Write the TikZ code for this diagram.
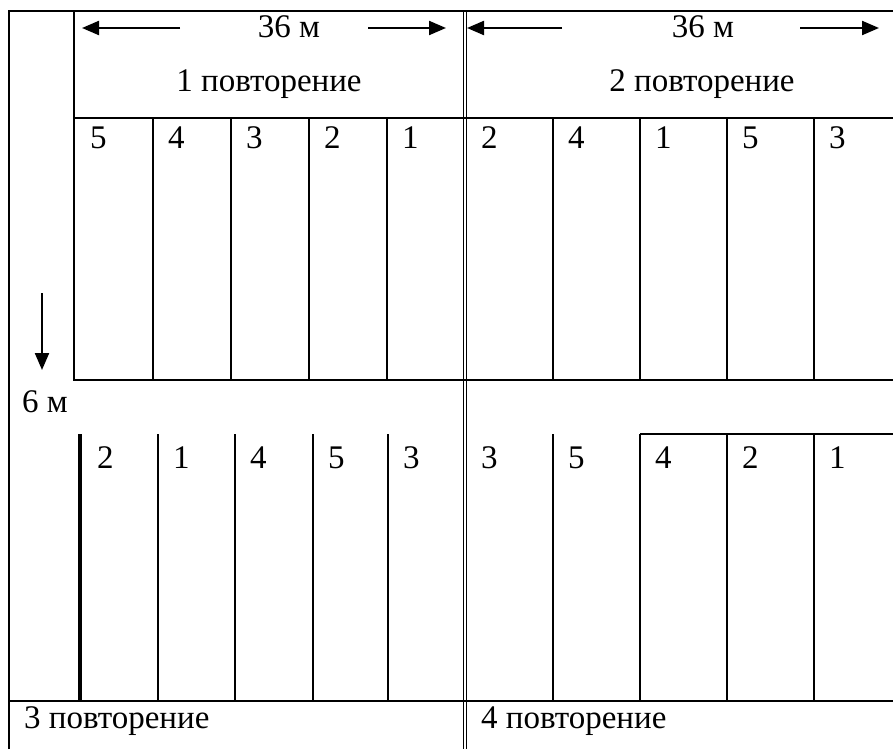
\documentclass[tikz,border=0pt]{standalone}
\usepackage{fontspec}
\setmainfont{Liberation Serif}
\usetikzlibrary{arrows.meta}
\begin{document}
\begin{tikzpicture}[x=1pt,y=-1pt,line width=2.3pt,line join=miter,
  lbl/.style={font=\fontsize{33}{36}\selectfont,inner sep=0pt},
  num/.style={lbl,anchor=base west},
  arr/.style={line width=2.2pt,-{Triangle[length=17pt,width=14pt]}},
  dbl/.style={line width=1.4pt},
  thick3/.style={line width=3.4pt}]
\useasboundingbox (0,0) rectangle (893,749);
\fill[white] (0,0) rectangle (893,749);
% frame
\draw (9,749) -- (9,11) -- (893,11);
\draw (74,11) -- (74,380) -- (893,380);
\draw (74,118) -- (893,118);
\draw[dbl] (463.2,11) -- (463.2,749);
\draw[dbl] (466.4,11) -- (466.4,749);
% top strips
\foreach \x in {153,231,309,387,553,640,727,814}
  \draw (\x,118) -- (\x,380);
% bottom strips
\draw[thick3] (80,434) -- (80,701);
\foreach \x in {158,235,313,388,553,640,727,814}
  \draw (\x,434) -- (\x,701);
\draw (640,434) -- (893,434);
\draw (9,701) -- (893,701);
% arrows
\coordinate (a1s) at (180,28); \coordinate (a1e) at (82,28);
\coordinate (a2s) at (368,28); \coordinate (a2e) at (446,28);
\coordinate (a3s) at (562,28); \coordinate (a3e) at (467,28);
\coordinate (a4s) at (800,28); \coordinate (a4e) at (879,28);
\coordinate (a5s) at (42,293); \coordinate (a5e) at (42,370);
\draw[arr] (a1s) -- (a1e);
\draw[arr] (a2s) -- (a2e);
\draw[arr] (a3s) -- (a3e);
\draw[arr] (a4s) -- (a4e);
\draw[arr] (a5s) -- (a5e);
% header labels
\node[lbl,anchor=base] (d1) at (289,38) {36 м};
\node[lbl,anchor=base] (d2) at (703,38) {36 м};
\node[lbl,anchor=base] (r1) at (269,92) {1 повторение};
\node[lbl,anchor=base] (r2) at (702,92) {2 повторение};
\node[lbl,anchor=base] (d3) at (45,412) {6 м};
\node[lbl,anchor=base west] (r3) at (23,728) {3 повторение};
\node[lbl,anchor=base west] (r4) at (480,728) {4 повторение};
% top numbers
\node[num] (t1) at (89,148) {5};
\node[num] (t2) at (167,148) {4};
\node[num] (t3) at (245,148) {3};
\node[num] (t4) at (323,148) {2};
\node[num] (t5) at (401,148) {1};
\node[num] (t6) at (480,148) {2};
\node[num] (t7) at (567,148) {4};
\node[num] (t8) at (654,148) {1};
\node[num] (t9) at (741,148) {5};
\node[num] (t10) at (828,148) {3};
% bottom numbers
\node[num] (b1) at (96,468) {2};
\node[num] (b2) at (172,468) {1};
\node[num] (b3) at (249,468) {4};
\node[num] (b4) at (327,468) {5};
\node[num] (b5) at (402,468) {3};
\node[num] (b6) at (480,468) {3};
\node[num] (b7) at (567,468) {5};
\node[num] (b8) at (654,468) {4};
\node[num] (b9) at (741,468) {2};
\node[num] (b10) at (828,468) {1};
\end{tikzpicture}
\end{document}
